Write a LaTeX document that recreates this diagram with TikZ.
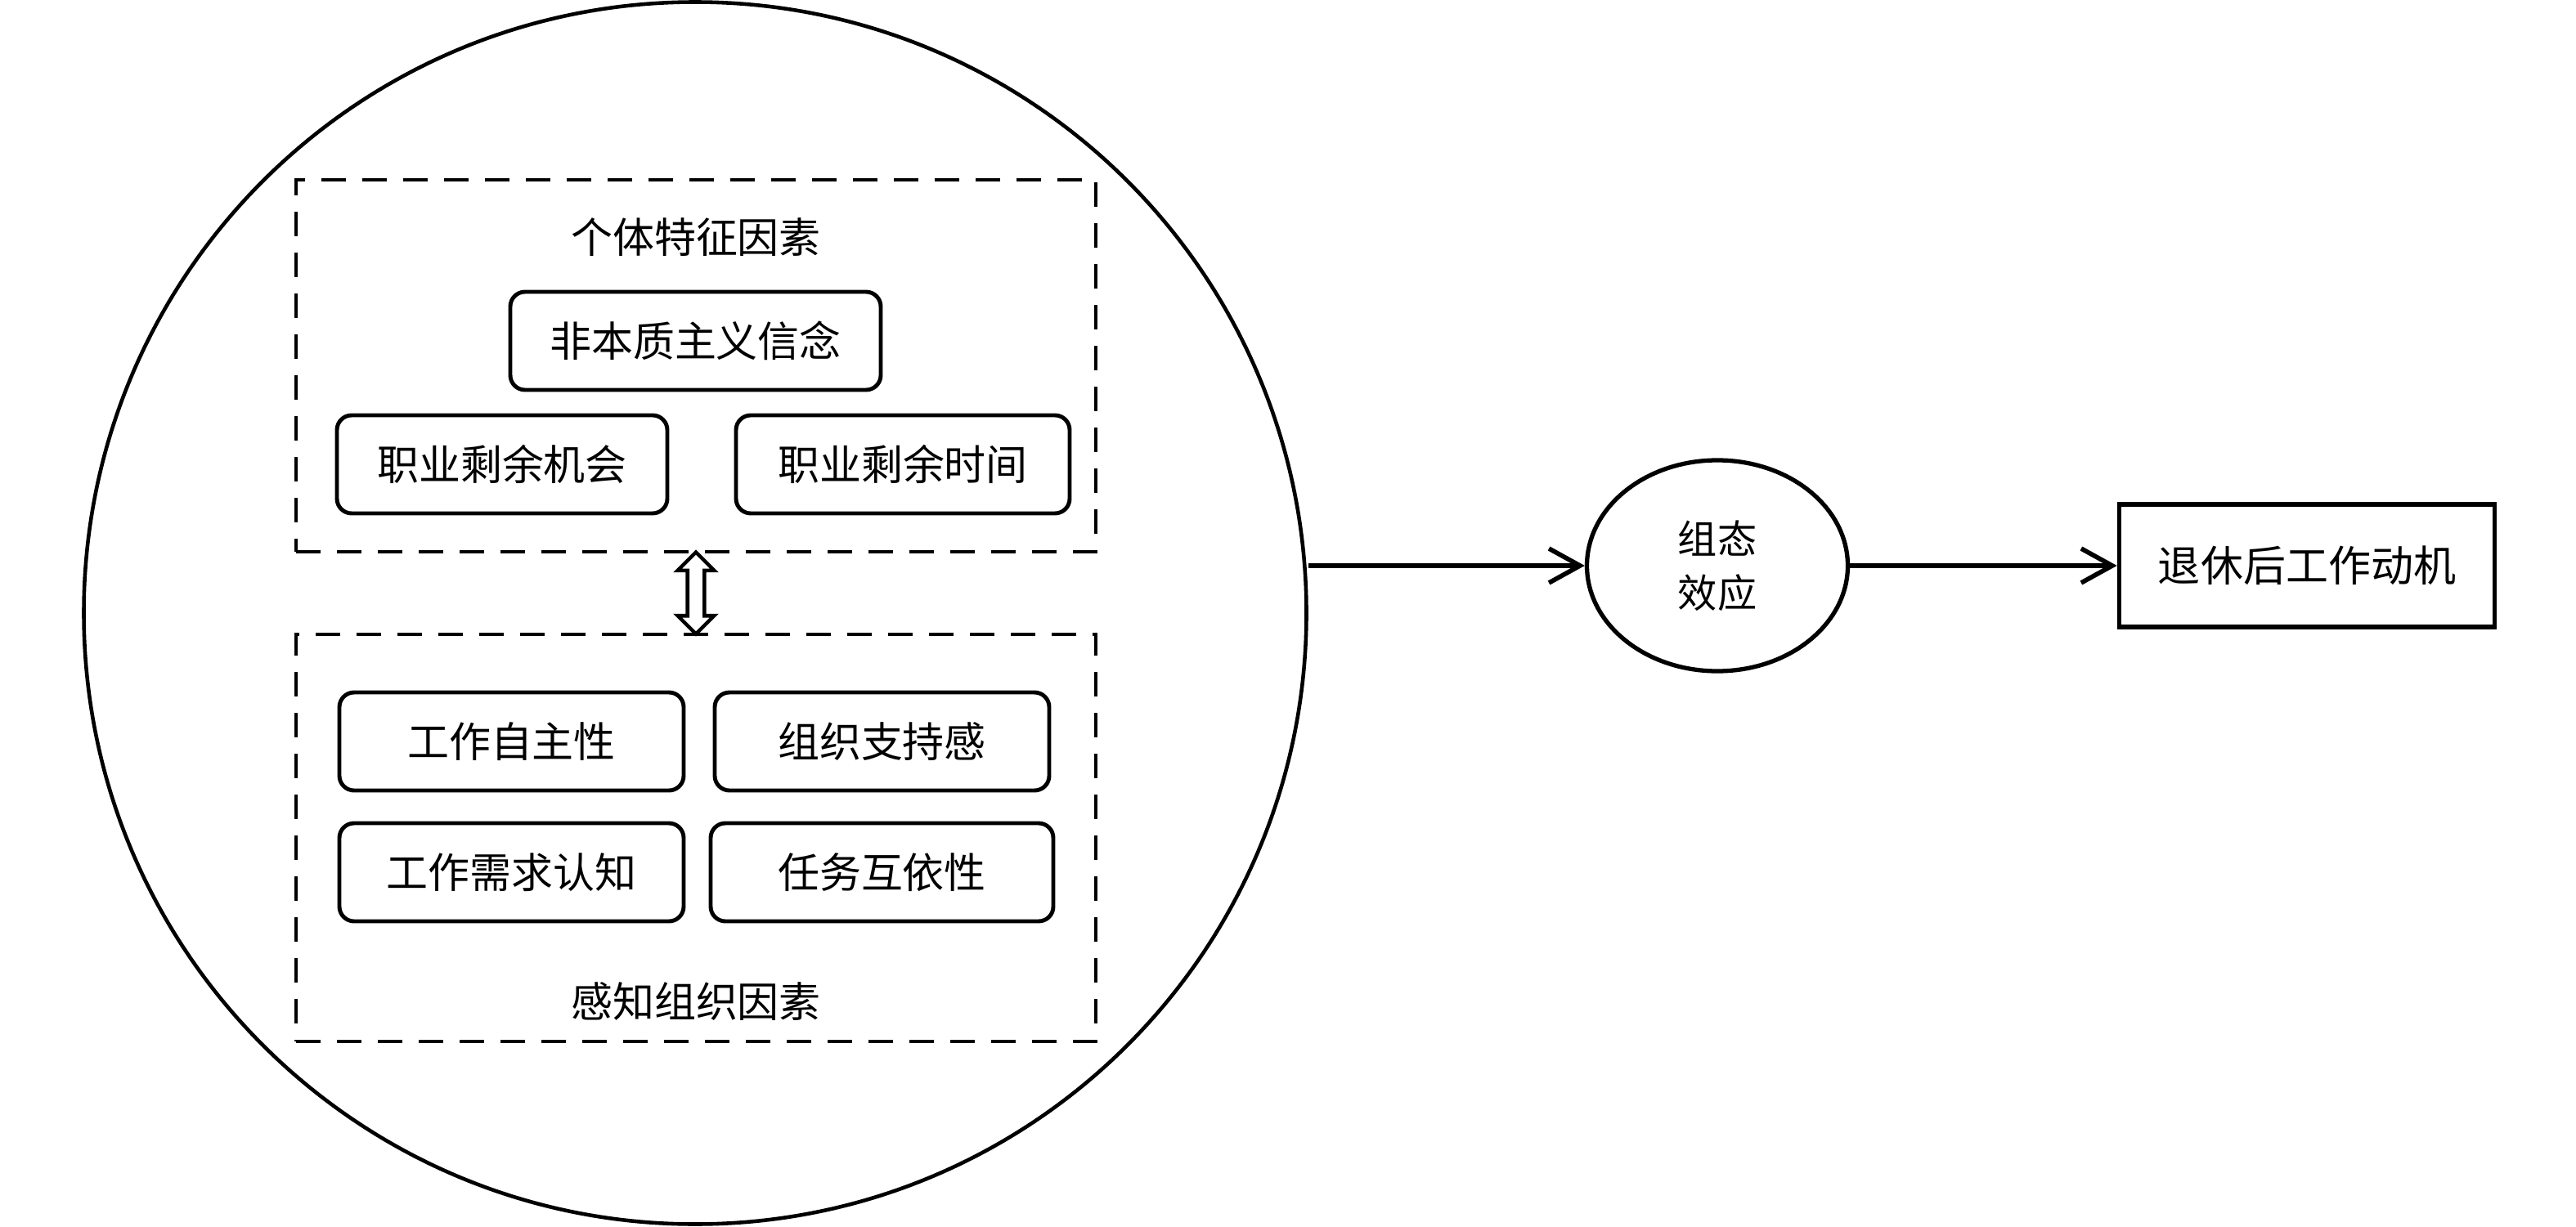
\documentclass[tikz,border=0pt]{standalone}
\usepackage{fontspec}
\setmainfont{Noto Sans CJK SC}
\usetikzlibrary{calc,positioning,shapes.geometric,shapes.arrows,arrows.meta}
\tikzset{%
  factor/.style = { draw, rounded corners=1.8mm, line width=1.4pt, minimum height=1.2cm, inner sep=0pt, font=\fontsize{14.5pt}{17pt}\selectfont },
  group/.style = { draw, dash pattern=on 0.3cm off 0.2cm, line width=1.4pt, inner sep=0pt },
  grouplabel/.style = { font=\fontsize{14.5pt}{17pt}\selectfont },
  flow/.style = { line width=1.6pt, -{Straight Barb[length=0.38cm, width=0.42cm]} },
  link/.style = { double arrow, draw, line width=1.3pt, rotate=90, inner sep=0.08cm, double arrow head extend=0.12cm, minimum height=1.0cm }
}
\begin{document}
\begin{tikzpicture}

  \useasboundingbox (0,0) rectangle (31.5,15);

  % Outer circle
  \node[circle, draw, line width=1.3pt, minimum size=14.95cm, inner sep=0pt] (circ) at (8.5,7.5) {};

  % Individual factors
  \node[group, minimum width=9.78cm, minimum height=4.55cm] (indiv) at (8.51,10.525) {};
  \node[grouplabel] (indivlabel) at (8.51,12.10) {个体特征因素};
  \node[factor, minimum width=4.53cm] (belief) at (8.505,10.83) {非本质主义信念};
  \node[factor, minimum width=4.04cm] (chance) at (6.14,9.32) {职业剩余机会};
  \node[factor, minimum width=4.08cm] (time) at (11.04,9.32) {职业剩余时间};

  % Perceived organizational factors
  \node[group, minimum width=9.78cm, minimum height=4.98cm] (orgn) at (8.51,4.75) {};
  \node[factor, minimum width=4.21cm] (autonomy) at (6.255,5.93) {工作自主性};
  \node[factor, minimum width=4.09cm] (support) at (10.785,5.93) {组织支持感};
  \node[factor, minimum width=4.21cm] (demand) at (6.255,4.33) {工作需求认知};
  \node[factor, minimum width=4.19cm] (interdep) at (10.785,4.33) {任务互依性};
  \node[grouplabel] (orgnlabel) at (8.51,2.75) {感知组织因素};

  \node[link] (mutual) at ($(indiv.south)!0.5!(orgn.north)$) {};

  % Configuration effect and outcome
  \node[ellipse, draw, line width=1.5pt, minimum width=3.19cm, minimum height=2.58cm, inner sep=0pt, align=center, font=\fontsize{13.7pt}{18.8pt}\selectfont] (conf) at (21.00,8.08) {组态\\效应};
  \node[draw, line width=1.6pt, minimum width=4.59cm, minimum height=1.5cm, inner sep=0pt, font=\fontsize{14.8pt}{17pt}\selectfont] (motive) at (28.21,8.08) {退休后工作动机};

  \draw[flow] (circ.east |- conf.west) -- (conf.west);
  \draw[flow] (conf.east) -- (motive.west);

\end{tikzpicture}
\end{document}
